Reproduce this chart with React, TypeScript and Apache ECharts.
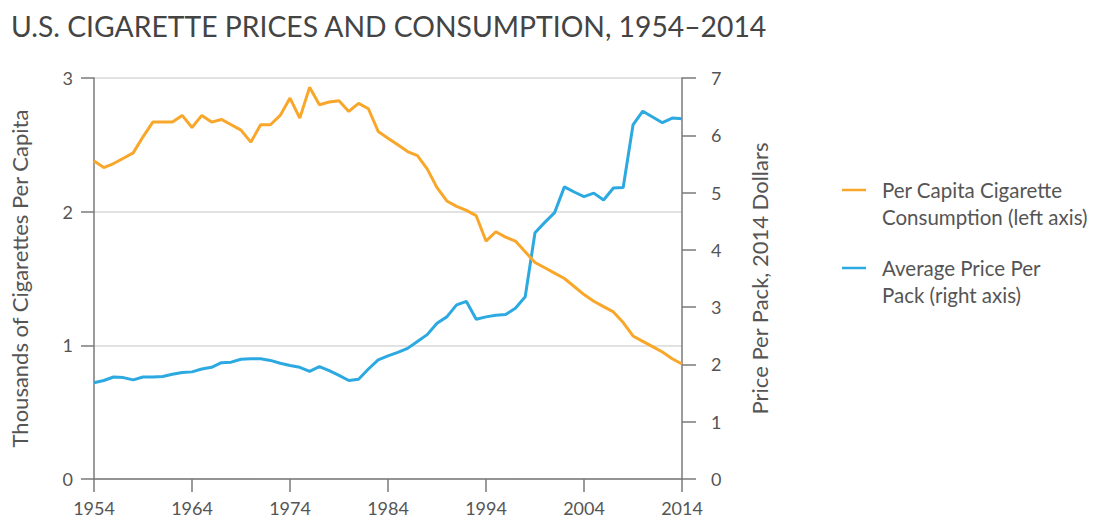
import React, { useEffect, useRef } from "react";
import * as echarts from "echarts";

const years: string[] = [];
for (let y = 1954; y <= 2014; y++) years.push(String(y));

const consumption = [
  2.38, 2.33, 2.36, 2.4, 2.44, 2.56, 2.67, 2.67, 2.67, 2.72,
  2.63, 2.72, 2.67, 2.69, 2.65, 2.61, 2.52, 2.65, 2.65, 2.72,
  2.85, 2.7, 2.93, 2.8, 2.82, 2.83, 2.75, 2.81, 2.77, 2.6,
  2.55, 2.5, 2.45, 2.42, 2.32, 2.18, 2.08, 2.04, 2.01, 1.97,
  1.78, 1.85, 1.81, 1.78, 1.7, 1.62, 1.58, 1.54, 1.5, 1.44,
  1.38, 1.33, 1.29, 1.25, 1.17, 1.07, 1.03, 0.99, 0.95, 0.9,
  0.86,
];

const price = [
  1.68, 1.72, 1.78, 1.77, 1.73, 1.78, 1.78, 1.79, 1.83, 1.86,
  1.87, 1.92, 1.95, 2.03, 2.04, 2.09, 2.1, 2.1, 2.07, 2.02,
  1.98, 1.95, 1.88, 1.96, 1.89, 1.81, 1.72, 1.74, 1.92, 2.08,
  2.15, 2.21, 2.28, 2.4, 2.52, 2.72, 2.83, 3.04, 3.1, 2.79,
  2.83, 2.86, 2.87, 2.98, 3.18, 4.3, 4.48, 4.65, 5.1, 5.01,
  4.93, 4.99, 4.87, 5.08, 5.09, 6.18, 6.42, 6.32, 6.22, 6.3,
  6.29,
];

const leftTicks = [0, 1, 2, 3];
const rightTicks = [0, 1, 2, 3, 4, 5, 6, 7];

const ORANGE = "#F9A72B";
const BLUE = "#2CA9E1";
const TEXT = "#555555";
const AXIS = "#7a7a7a";
const FONT = "Lato, 'Noto Sans', sans-serif";

export default function App() {
  const ref = useRef<HTMLDivElement>(null);
  useEffect(() => {
    if (!ref.current) return;
    const chart = echarts.init(ref.current, undefined, { renderer: "svg" });
    chart.setOption({
      animation: false,
      backgroundColor: "#ffffff",
      textStyle: { fontFamily: FONT },
      title: {
        text: "U.S. CIGARETTE PRICES AND CONSUMPTION, 1954\u20132014",
        left: 6,
        top: 7,
        textStyle: { fontFamily: FONT, fontSize: 28.3, fontWeight: "normal", color: "#444444" },
      },
      grid: { left: 91, right: 422, top: 78, bottom: 45, containLabel: false },
      xAxis: {
        type: "category",
        data: years,
        boundaryGap: false,
        axisLine: { show: true, lineStyle: { color: AXIS, width: 1.5 } },
        axisTick: { show: true, interval: 9, length: 13, lineStyle: { color: AXIS, width: 1.5 } },
        axisLabel: { interval: 9, margin: 20, color: TEXT, fontSize: 18, fontFamily: FONT },
        splitLine: { show: false },
      },
      yAxis: [
        {
          type: "value",
          min: leftTicks[0],
          max: leftTicks[leftTicks.length - 1],
          interval: 1,
          position: "left",
          name: "Thousands of Cigarettes Per Capita",
          nameLocation: "middle",
          nameGap: 64,
          nameTextStyle: { color: TEXT, fontSize: 22, fontFamily: FONT },
          axisLine: { show: true, lineStyle: { color: AXIS, width: 1.5 } },
          axisTick: { show: true, length: 13, lineStyle: { color: AXIS, width: 1.5 } },
          axisLabel: { margin: 21, color: TEXT, fontSize: 18, fontFamily: FONT },
          splitLine: { show: true, lineStyle: { color: "#d9d9d9", width: 1.5 } },
        },
        {
          type: "value",
          min: rightTicks[0],
          max: rightTicks[rightTicks.length - 1],
          interval: 1,
          position: "right",
          name: "Price Per Pack, 2014 Dollars",
          nameLocation: "middle",
          nameGap: 66,
          nameTextStyle: { color: TEXT, fontSize: 22, fontFamily: FONT },
          axisLine: { show: true, lineStyle: { color: AXIS, width: 1.5 } },
          axisTick: { show: true, length: 14, lineStyle: { color: AXIS, width: 1.5 } },
          axisLabel: { margin: 29, color: TEXT, fontSize: 18, fontFamily: FONT },
          splitLine: { show: false },
        },
      ],
      series: [
        {
          name: "Per Capita Cigarette Consumption (left axis)",
          type: "line",
          yAxisIndex: 0,
          data: consumption,
          showSymbol: false,
          lineStyle: { color: ORANGE, width: 3 },
          itemStyle: { color: ORANGE },
          z: 3,
        },
        {
          name: "Average Price Per Pack (right axis)",
          type: "line",
          yAxisIndex: 1,
          data: price,
          showSymbol: false,
          lineStyle: { color: BLUE, width: 3 },
          itemStyle: { color: BLUE },
          z: 2,
        },
      ],
      graphic: [
        {
          type: "line",
          shape: { x1: 842, y1: 190, x2: 866, y2: 190 },
          style: { stroke: ORANGE, lineWidth: 2.5 },
        },
        {
          type: "text",
          x: 882,
          y: 176,
          style: {
            text: "Per Capita Cigarette\nConsumption (left axis)",
            fill: TEXT,
            fontSize: 20.5,
            fontFamily: FONT,
            lineHeight: 27,
          },
        },
        {
          type: "line",
          shape: { x1: 842, y1: 268, x2: 866, y2: 268 },
          style: { stroke: BLUE, lineWidth: 2.5 },
        },
        {
          type: "text",
          x: 882,
          y: 254,
          style: {
            text: "Average Price Per\nPack (right axis)",
            fill: TEXT,
            fontSize: 20.5,
            fontFamily: FONT,
            lineHeight: 27,
          },
        },
      ],
    });
    return () => chart.dispose();
  }, []);
  return <div ref={ref} style={{ width: 1104, height: 524, position: "absolute", left: 0, top: 0 }} />;
}
